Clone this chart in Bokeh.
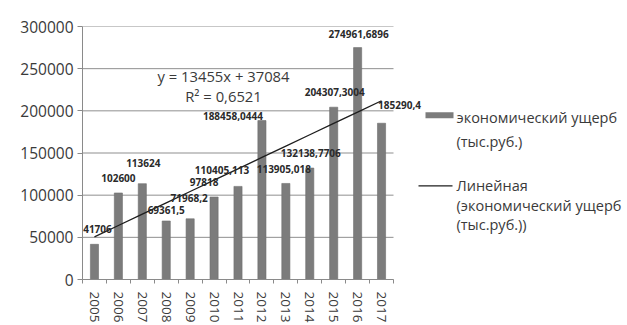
from bokeh.plotting import figure
from bokeh.models import ColumnDataSource, Range1d, FixedTicker
from bokeh.core.properties import value
from bokeh.embed import file_html
from bokeh.resources import INLINE

# Economic damage by year, thousand roubles
years = ["2005", "2006", "2007", "2008", "2009", "2010", "2011",
         "2012", "2013", "2014", "2015", "2016", "2017"]
damage = [41706, 102600, 113624, 69361.5, 71968.2, 97818, 110405.113,
          188458.0444, 113905.018, 132138.7706, 204307.3004, 274961.6896,
          185290.4]
damage_labels = ["41706", "102600", "113624", "69361,5", "71968,2", "97818",
                 "110405,113", "188458,0444", "113905,018", "132138,7706",
                 "204307,3004", "274961,6896", "185290,4"]

# Linear trend as stated on the chart
trend_slope = 13455
trend_intercept = 37084
trend_r2 = "0,6521"

y_ticks = [0, 50000, 100000, 150000, 200000, 250000, 300000]
y_max = 300000

legend_bar_text = ["экономический ущерб", "(тыс.руб.)"]
legend_trend_text = ["Линейная", "(экономический ущерб", "(тыс.руб.))"]

# pixel nudges for the value labels (right, up)
label_dx = [3, 0, 1, 0, -1, -10, -16, -29, -2, 1, 1, 1, 18]
label_dy = [15, 15, 21, 11, 21, 15, 16, 5, 14, 15, 15, 14, 18]

W, H = 627, 325
FRAME_L, CAT_R, FRAME_T, FRAME_B = 82, 393, 26, 280
N = len(years)
PX_PER_CAT = (CAT_R - FRAME_L) / N
PX_PER_UNIT = (FRAME_B - FRAME_T) / y_max


def at_x(px):
    """page pixel column -> x data coordinate"""
    return 0.5 + (px - FRAME_L) / PX_PER_CAT


def at_y(py):
    """page pixel row -> y data coordinate"""
    return (FRAME_B - py) / PX_PER_UNIT


idx = list(range(1, N + 1))
src = ColumnDataSource(dict(
    x=idx, y=damage, label=damage_labels,
    dx=label_dx, dy=[-d for d in label_dy],
))

# the frame runs to the right page edge so the legend can sit inside it;
# the category area itself ends at x = N + 0.5
p = figure(width=W, height=H, output_backend="svg", toolbar_location=None,
           x_range=Range1d(0.5, at_x(W)), y_range=Range1d(0, y_max),
           min_border_left=FRAME_L, min_border_right=0,
           min_border_top=FRAME_T, min_border_bottom=H - FRAME_B)
p.outline_line_color = None
p.background_fill_color = "white"
p.border_fill_color = "white"

GREY_TXT = "#3a3a3a"
AXIS = "#8a8a8a"
FONT = "Open Sans"

# y axis
p.yaxis.ticker = FixedTicker(ticks=y_ticks)
p.yaxis.formatter.use_scientific = False
p.yaxis.major_label_text_font = FONT
p.yaxis.major_label_text_font_size = "15.5px"
p.yaxis.major_label_text_color = GREY_TXT
p.yaxis.axis_line_color = AXIS
p.yaxis.major_tick_line_color = AXIS
p.yaxis.major_tick_out = 5
p.yaxis.major_tick_in = 0
p.yaxis.minor_tick_line_color = None
p.yaxis.major_label_standoff = 4

# x axis: labels at categories, ticks between them
p.xaxis.bounds = (0.5, N + 0.5)
p.xaxis.ticker = FixedTicker(ticks=idx,
                             minor_ticks=[i + 0.5 for i in range(0, N + 1)])
p.xaxis.major_label_overrides = {i: y for i, y in zip(idx, years)}
p.xaxis.major_label_orientation = "vertical"
p.xaxis.major_label_text_font = FONT
p.xaxis.major_label_text_font_size = "13.5px"
p.xaxis.major_label_text_color = GREY_TXT
p.xaxis.axis_line_color = AXIS
p.xaxis.major_tick_line_color = None
p.xaxis.minor_tick_line_color = AXIS
p.xaxis.minor_tick_out = 4
p.xaxis.minor_tick_in = 0
p.xaxis.major_label_standoff = 6

# horizontal gridlines across the category area only
p.xgrid.grid_line_color = None
p.ygrid.grid_line_color = None
p.segment(x0=[0.5] * len(y_ticks), x1=[N + 0.5] * len(y_ticks),
          y0=y_ticks, y1=y_ticks, line_color="#8f8f8f", line_width=1)

# bars
BAR = "#7c7c7c"
p.vbar(x="x", top="y", width=0.34, source=src,
       fill_color=BAR, line_color="#6e6e6e", line_width=0.6)

# trend line
LINE = "#1e1e1e"
trend_y = [trend_slope * i + trend_intercept for i in idx]
p.line(idx, trend_y, line_color=LINE, line_width=1.3)

# value labels
p.text(x="x", y="y", text="label", x_offset="dx", y_offset="dy", source=src,
       text_font=value(FONT), text_font_style="bold",
       text_font_size="10px", text_color="#2a2a2a",
       text_align="center", text_baseline="middle")

# trend equation
eq_lines = ["y = %dx + %d" % (trend_slope, trend_intercept),
            "R² = " + trend_r2]
p.text(x=[at_x(223)] * 2, y=[at_y(76), at_y(96)], text=eq_lines,
       text_font=value(FONT), text_font_size="14.8px", text_color=GREY_TXT,
       text_align="center", text_baseline="middle")

# legend
p.quad(left=[at_x(425)], right=[at_x(453)], top=[at_y(112)],
       bottom=[at_y(118)], fill_color=BAR, line_color=None)
p.line([at_x(418), at_x(452)], [at_y(186)] * 2, line_color=LINE,
       line_width=1.3)

legend_rows = [at_y(117), at_y(141)]
trend_rows = [at_y(186), at_y(205.5), at_y(225)]
p.text(x=[at_x(456)] * 5, y=legend_rows + trend_rows,
       text=legend_bar_text + legend_trend_text,
       text_font=value(FONT), text_font_size="14.5px", text_color=GREY_TXT,
       text_align="left", text_baseline="middle")

open("out.html", "w").write(file_html(p, INLINE))
